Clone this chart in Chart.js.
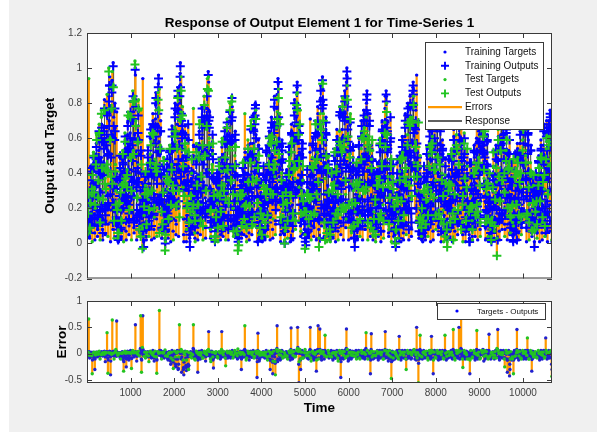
<!DOCTYPE html>
<html>
<head>
<meta charset="utf-8">
<script src="https://cdn.jsdelivr.net/npm/chart.js@4.4.1/dist/chart.umd.min.js"></script>
<style>
  html, body { margin: 0; padding: 0; background: #ffffff; }
  #fig { position: absolute; left: 9px; top: 0; width: 588px; height: 432px; background: #f0f0f0; }
  #topBox { position: absolute; left: 0; top: 0; width: 597px; height: 290px; }
  #botBox { position: absolute; left: 0; top: 290px; width: 597px; height: 142px; }
</style>
</head>
<body>
<div id="fig"></div>
<div id="topBox"><canvas id="respChart" width="597" height="290"></canvas></div>
<div id="botBox"><canvas id="errChart" width="597" height="142"></canvas></div>
<script>
// ---- time axis: one sample every 5 steps ----
const firstStep = 1;
const sampleStep = 5;
const xTicks = [1000, 2000, 3000, 4000, 5000, 6000, 7000, 8000, 9000, 10000];
const yTicksResp = [-0.2, 0, 0.2, 0.4, 0.6, 0.8, 1, 1.2];
const yTicksErr = [-0.5, 0, 0.5, 1];

// ---- targets in hundredths; one line per seasonal cycle, 12 samples per day ----
const targetPct = [
  22,12,5,9,14,20,30,26,94,16,8,4, 3,6,11,17,22,28,34,40,44,38,27,10, 1,11,22,29,35,43,52,50,45,32,17,6, 2,11,20,28,35,43,51,57,62,45,28,10, 4,8,18,27,35,43,53,62,68,60,42,15, 2,15,30,40,49,59,72,68,62,44,23,8, 2,14,27,37,46,57,67,75,82,60,37,13, 5,11,22,33,44,55,66,77,85,75,53,19, 4,11,20,52,100,84,70,88,95,78,60,22, 1,19,39,51,64,76,88,93,98,62,25,8, 103,90,72,30,3,18,40,60,80,66,45,20, 30,18,10,40,75,35,20,9,4,3,2,1,
  1,7,14,19,24,29,34,39,42,31,19,7, 3,7,14,21,28,34,41,48,53,47,33,12, 1,13,26,34,42,51,63,59,54,38,20,7, 2,13,25,34,42,52,62,69,75,55,34,12, 5,10,21,32,42,52,63,74,81,71,50,18, 2,18,37,48,59,72,87,83,75,53,28,9, 6,34,62,84,104,100,96,82,70,50,30,12, 2,14,27,37,46,57,67,75,82,60,37,13, 4,7,11,18,25,40,76,58,52,30,10,5, 20,14,9,30,94,40,4,2,
  1,8,16,21,26,31,38,36,33,23,12,4, 2,9,18,25,31,38,45,51,55,40,25,9, 4,8,17,26,34,42,51,60,66,58,41,15, 2,16,31,41,50,61,74,70,64,45,23,8, 3,15,28,39,48,59,71,79,86,63,39,14, 4,22,40,54,68,77,86,91,96,77,58,20, 88,50,28,42,56,63,70,55,40,24,8,3, 3,6,13,19,25,31,38,44,49,43,30,11, 12,7,3,2,
  1,7,14,19,24,29,34,39,42,31,19,7, 3,7,15,22,29,36,44,51,56,49,35,13, 1,14,28,36,45,55,67,63,57,41,21,7, 2,14,26,36,45,55,66,74,80,58,36,13, 5,11,23,34,45,56,68,79,87,77,54,20, 4,24,45,58,70,80,90,97,103,90,75,30, 95,64,35,48,62,70,78,64,50,32,14,5, 1,14,28,36,45,55,67,63,57,41,21,7, 1,8,16,22,27,33,39,44,48,35,22,8, 14,9,5,3,
  1,7,13,18,22,28,33,37,40,29,18,6, 10,18,25,50,77,56,35,26,18,12,6,3, 1,12,24,31,38,47,57,54,49,35,18,6, 2,12,23,32,39,48,57,64,70,51,32,11, 5,10,20,30,40,50,60,70,78,68,48,18, 2,18,35,46,56,69,84,79,72,51,26,9, 3,16,31,42,53,65,77,86,94,69,42,15, 98,95,92,76,60,68,75,54,32,20,8,3, 4,7,15,23,30,37,45,53,58,51,36,13, 10,20,30,24,18,11,4,2,
  2,5,10,14,19,24,29,33,37,32,23,8, 1,10,20,26,32,39,48,45,41,29,15,5, 2,10,20,27,34,41,49,55,60,44,27,10, 4,8,17,26,34,42,51,60,66,58,41,15, 2,15,30,39,48,59,71,68,62,44,23,8, 2,14,26,36,45,55,66,74,80,58,36,13, 10,35,60,72,84,81,78,61,44,32,20,7, 4,8,16,25,33,41,50,58,64,56,40,15, 4,6,8,13,18,23,28,16,5,3,2,1,
  1,6,12,16,20,25,30,33,36,26,16,6, 3,6,12,18,24,30,36,42,47,41,29,11, 5,12,20,47,74,52,30,35,40,25,10,4, 1,12,25,32,40,48,59,56,51,36,19,6, 2,12,23,32,39,48,57,64,70,51,32,11, 5,9,19,29,38,47,57,67,74,65,46,17, 10,40,70,75,80,78,76,62,48,37,26,9, 1,12,25,32,40,48,59,56,51,36,19,6, 2,6,11,16,20,25,29,17,6,4,3,2,
  1,8,16,21,26,31,38,36,33,23,12,4, 2,9,18,25,31,38,45,51,55,40,25,9, 4,8,17,25,33,41,50,58,64,56,40,15, 2,15,30,40,49,59,72,68,62,44,23,8, 3,14,28,38,47,58,69,77,84,61,38,13, 5,11,22,33,44,55,66,77,85,75,53,19, 94,91,88,74,60,49,38,56,74,43,12,5, 1,12,25,32,40,48,59,56,51,36,19,6, 16,26,36,22,8,5,2,1,
  1,7,14,19,24,29,34,39,42,31,19,7, 3,7,15,22,29,36,44,51,56,49,35,13, 1,14,29,40,52,58,68,64,60,42,22,7, 2,14,27,37,46,57,67,75,82,60,37,13, 8,28,48,60,72,79,85,89,92,86,80,57, 34,50,66,39,12,32,52,64,76,51,26,10, 4,7,15,23,30,37,45,53,58,51,36,13, 16,23,30,19,8,14,20,12,5,3,2,1,
  1,7,14,19,23,28,34,32,30,21,11,4, 4,10,16,22,28,31,34,52,71,44,18,7, 2,10,20,27,34,41,49,55,60,44,27,10, 4,9,18,27,36,45,54,63,70,61,43,16, 2,16,33,43,52,64,78,74,67,48,25,8, 3,15,30,41,50,62,74,83,90,66,41,14, 10,36,62,79,95,92,88,81,74,60,46,16, 4,9,19,28,37,46,56,65,72,63,44,16, 1,10,21,27,33,41,49,47,43,30,16,5, 6,4,3,2,
  1,7,14,19,24,29,34,39,42,31,19,7, 3,7,14,21,28,35,42,49,54,48,34,12, 1,14,27,35,44,53,65,61,56,39,20,7, 2,13,26,35,44,54,64,72,78,57,35,12, 5,10,22,33,43,53,65,76,83,73,52,19, 2,18,37,48,59,72,87,83,75,53,28,9, 14,53,92,96,100,95,90,80,70,57,44,15, 2,13,24,33,41,51,61,68,74,54,33,12, 3,6,13,19,25,31,38,44,49,43,30,11, 12,8,4,2,
  1,9,18,23,28,34,42,40,36,26,13,4, 2,10,20,27,34,41,49,55,60,44,27,10, 4,9,18,27,36,45,54,63,70,61,43,16, 2,16,32,42,51,62,76,72,66,46,24,8, 8,29,50,61,72,76,80,84,87,75,62,22, 2,13,24,33,41,51,61,68,74,54,33,12, 4,8,11,34,56,48,39,46,53,44,34,12, 2,4,9,14,18,22,27,32,35,31,22,8,
  1,8,15,21,26,32,38,42,46,34,21,7, 4,7,16,24,31,38,47,55,60,53,37,14, 1,15,30,38,47,58,70,67,61,43,22,7, 3,14,28,38,47,58,69,77,84,61,38,13, 87,84,80,68,56,63,70,54,38,27,16,6, 4,8,16,24,32,40,48,56,62,54,38,14, 1,8,16,21,26,31,38,36,33,23,12,4, 12,18,24,16,8,5,3,2,
  1,7,13,18,22,28,33,37,40,29,18,6, 3,6,14,21,36,34,41,48,52,46,32,12, 1,13,26,33,41,50,61,58,52,37,19,6, 2,13,24,33,41,51,61,68,74,54,33,12, 5,10,21,31,41,51,62,72,80,70,49,18, 2,18,35,46,56,69,84,79,72,51,26,9, 4,25,46,59,72,79,86,89,92,88,84,65, 46,58,70,45,20,39,58,67,76,53,30,12, 96,63,30,41,52,46,40,27,14,10,6,3, 3,9,15,32,50,44,38,25,12,8,4,2, 14,10,6,3,
  1,8,16,21,26,31,38,36,33,23,12,4, 2,9,18,24,30,37,44,50,54,39,24,9, 4,8,17,25,33,41,50,58,64,56,40,15, 1,15,30,38,47,58,70,67,61,43,22,7, 2,14,26,36,45,55,66,74,80,58,36,13, 8,28,48,67,86,84,82,76,70,50,30,10, 5,9,19,29,38,47,57,67,74,65,46,17, 1,12,25,32,40,48,59,56,51,36,19,6, 1,8,16,22,27,33,39,44,48,35,22,8, 10,6,3,2,
  1,7,14,19,24,29,34,39,42,31,19,7, 3,7,14,21,28,35,42,49,54,48,34,12, 1,14,27,35,48,53,65,61,56,39,20,7, 2,13,25,35,43,52,62,70,76,55,34,12, 5,10,21,31,41,51,62,72,80,70,49,18, 85,72,60,69,78,66,54,45,36,24,12,5, 1,13,26,34,42,51,63,59,54,38,20,7, 1,7,15,20,25,30,36,40,44,32,20,7, 12,18,24,16,8,5,3,2,
  8,8,17,22,27,33,40,38,34,24,13,4, 2,10,19,25,31,39,46,52,56,41,25,9, 4,8,17,26,34,42,51,60,66,58,41,15, 2,15,30,40,49,59,72,68,62,44,23,8, 4,24,44,55,66,73,80,82,83,78,72,58, 50,57,64,41,18,37,56,63,70,47,24,9, 2,11,21,28,35,43,51,57,62,45,28,10, 4,11,18,29,40,37,34,23,12,8,5,3, 14,9,4,2,
  1,7,15,20,25,30,36,40,44,32,20,7, 3,7,15,22,29,36,44,51,56,49,35,13, 3,14,27,35,48,53,65,61,56,39,20,7, 2,13,25,35,43,52,62,70,76,55,34,12, 8,34,60,70,80,76,72,62,52,41,30,11, 4,8,18,27,35,43,53,62,68,60,42,15, 2,11,22,29,36,44,53,50,46,32,17,6, 5,6,11,15,19,23,28,31,34,25,15,5, 12,8,4,2,
  10,5,11,17,22,27,33,39,43,37,26,10, 1,12,24,31,48,47,57,54,49,35,18,6, 2,12,23,32,39,48,57,64,70,51,32,11, 5,9,20,30,39,48,59,69,76,66,47,17, 12,43,74,79,84,82,80,65,50,38,26,9, 1,14,29,37,46,56,68,65,59,42,22,7, 2,10,19,25,31,39,46,52,56,41,25,9, 6,4,9,13,17,21,26,30,33,29,20,7,
  1,7,13,18,22,28,33,37,40,29,18,6, 3,6,13,20,26,32,39,46,50,44,31,11, 1,12,25,32,40,48,59,56,51,36,19,6, 2,12,22,31,38,47,56,63,68,50,31,11, 4,9,18,27,36,45,54,63,70,61,43,16, 1,15,30,38,47,58,70,67,61,43,22,7, 76,73,70,60,50,59,68,35,2,1
];

// ---- errors (targets - outputs) in hundredths, same layout ----
const errorPct = [
  2,-1,-3,2,1,3,4,-2,66,4,-5,-2, -8,-3,2,1,-1,2,3,-1,1,2,-4,-6, -38,-12,1,2,3,-1,2,1,2,3,-4,-8, -30,-10,-2,1,2,-2,3,2,3,-1,1,-5, -6,-2,2,1,-1,2,4,-2,5,1,2,-3, -10,-4,1,2,3,-1,-2,2,4,1,1,-4, -4,1,2,-2,1,3,3,-1,5,2,3,-6, -15,-5,1,2,2,-1,4,3,40,2,3,-8, -37,-12,-2,1,2,3,3,-2,5,1,1,-6, -40,-14,1,2,3,-1,2,3,64,2,3,-4, 2,1,5,-2,-10,-4,2,1,3,2,4,-3, 8,-2,-5,3,62,4,1,-2,-4,-3,-2,-1,
  -3,1,2,-1,1,2,-2,-4,-8,-6,-10,-6, -5,-2,1,2,3,1,4,-1,2,1,-12,-8, -33,-15,-6,2,2,1,5,-2,3,1,-4,-6, -25,-10,1,2,3,-1,5,2,2,1,-8,-10, -12,-4,2,1,4,-2,3,2,6,1,1,-8, -28,-9,2,1,3,2,6,-1,4,2,1,-4, -6,-2,2,3,2,1,55,4,3,-1,-2,-3, -14,-5,1,2,3,-1,4,2,5,1,2,-4, -4,-1,1,2,3,10,72,5,2,-10,-35,-12, 2,4,12,5,72,8,-3,-2,
  3,-2,-5,1,2,3,4,-2,-8,-4,-6,-5, -6,-2,1,2,3,-1,4,2,2,1,-4,-6, -15,-5,2,1,4,2,5,-1,1,2,-3,-6, -8,-3,1,2,3,-2,6,2,2,1,-5,-8, -14,-5,2,1,5,2,4,-1,3,2,-6,-10, -37,-12,1,2,2,3,4,2,2,1,5,-3, 82,6,3,2,2,-1,6,2,1,-3,-10,-6, -5,-2,2,1,3,2,4,-1,2,1,-8,-5, -6,-3,7,2,
  -4,-1,2,1,3,-2,-4,-3,-6,-5,-8,-10, -12,-6,1,2,4,1,3,-1,2,-4,-10,-14, -20,-8,2,1,3,2,6,-2,1,-4,-12,-16, -28,-10,1,2,4,-1,5,2,3,-6,-20,-24, -25,-10,2,1,3,2,6,3,4,-10,-30,-28, -20,-6,3,2,55,5,6,2,2,1,4,-8, 8,-10,-35,-6,2,3,5,1,3,-12,-30,-26, -40,-16,1,2,3,-2,5,3,4,-8,-22,-26, -32,-12,2,1,4,-2,3,-6,-20,-24,-30,-22, 2,-3,-5,-2,
  3,-1,-5,2,4,1,-2,-4,-8,-6,-6,-4, -4,-2,2,10,55,8,3,-1,-6,-8,-10,-6, -12,-4,2,1,3,2,5,-1,1,2,-8,-6, -35,-12,1,2,4,-1,5,2,2,1,-6,-8, -10,-3,3,1,2,2,6,-2,1,2,-8,-5, -8,-2,2,1,4,-1,5,2,3,1,-5,-6, -14,-5,1,2,3,-2,4,2,6,1,2,-4, 2,8,42,6,4,2,3,-1,1,-4,-10,-6, -15,-5,2,1,5,-1,3,2,-4,-6,-12,-8, -27,-8,3,-2,-6,-3,2,1,
  -2,1,3,2,4,-2,-6,-3,-3,-2,-5,-4, -8,-3,2,1,3,2,4,-1,1,2,-4,-6, -10,-4,2,1,3,8,42,6,2,1,-6,-5, -5,-2,1,2,4,-1,3,2,2,1,-8,-6, -23,-8,2,1,3,2,5,-1,1,2,-8,-5, -6,-2,3,1,2,2,5,-1,4,1,-6,-8, -4,-1,2,2,3,-2,6,2,1,1,-8,-6, -3,-1,2,1,4,2,6,-1,2,1,-5,-4, -6,-2,1,2,3,-4,-10,-3,9,2,-4,-2,
  2,1,-4,-2,-6,1,3,2,5,-1,-8,-6, -30,-10,2,1,3,2,5,-1,1,2,-6,-4, -6,-2,2,8,53,6,4,2,5,-1,-12,-6, -8,-3,1,2,3,-1,5,2,2,1,-6,-5, -12,-4,2,1,4,2,5,-1,3,1,-5,-6, -7,-2,1,2,3,-2,6,2,2,1,-8,-6, -5,-1,2,2,3,-1,5,2,4,1,-6,-8, -45,-15,2,6,39,5,5,2,1,-4,-14,-10, -10,-3,1,2,3,-2,-6,-3,-4,-2,-2,-1,
  -3,1,2,1,4,-2,-6,-3,2,1,-5,-4, -8,-3,2,1,3,2,6,-1,2,1,-6,-8, -12,-4,1,2,4,-1,5,2,3,-4,-10,-12, -30,-12,2,1,3,2,6,-1,1,-5,-12,-16, -38,-14,2,1,5,2,6,-1,2,-6,-15,-18, -40,-14,3,2,4,2,8,10,53,4,-15,-10, 2,3,5,2,3,-2,-4,1,6,-4,-12,-8, -10,-3,2,1,4,2,6,-1,3,1,-8,-6, -6,-2,3,-1,-4,-2,2,1,
  -6,-2,3,1,-5,-2,4,1,2,-1,-4,-5, -10,-4,2,1,3,2,5,-1,1,2,-6,-6, -12,-4,2,8,49,6,5,2,3,-2,-10,-8, -8,-3,1,2,4,-1,6,2,2,1,-6,-4, -5,-1,2,1,3,2,6,3,2,10,50,12, 3,2,4,-20,-55,-15,2,1,8,2,-10,-12, -30,-10,2,1,3,2,6,-1,1,2,-8,-6, -8,-2,3,-2,-6,-3,2,1,8,2,-3,-2,
  2,1,-4,-2,3,1,-8,-3,2,1,-5,-4, -10,-4,2,1,3,2,6,8,50,6,-8,-6, -14,-5,2,1,4,2,5,-1,3,1,-6,-8, -12,-4,1,2,3,-1,6,2,2,-2,-10,-8, -33,-12,2,1,4,2,8,6,53,5,-10,-8, 5,2,2,6,47,8,6,2,3,1,-8,-6, -12,-4,3,2,2,1,6,2,4,1,2,-4, -10,-3,2,6,35,5,5,2,3,1,-6,-5, -5,-2,1,2,3,-1,6,2,2,1,-8,-6, -6,-3,-5,-2,
  -4,-1,3,2,6,1,-6,-2,4,1,-8,-5, -12,-4,2,1,5,2,4,-1,2,1,-6,-8, -8,-3,1,2,3,-1,6,2,4,1,-8,-6, -14,-5,2,1,4,2,6,-1,3,1,-10,-8, -45,-15,3,2,2,1,6,2,5,1,-8,-6, -10,-3,2,1,4,2,6,-1,3,1,-8,-6, -6,10,47,6,2,1,8,2,5,-4,-14,-8, -12,-4,2,1,4,2,6,-1,3,1,-8,-6, -10,-3,1,2,3,-1,5,2,-6,-3,-4,-2, 2,-1,-3,-1,
  3,-1,-5,2,4,1,6,-3,-10,-6,-8,-5, -6,-2,2,1,3,2,6,-1,4,1,-8,-6, -10,-3,1,2,4,-1,6,2,3,1,-6,-5, -8,-3,2,1,3,2,6,-1,2,1,-10,-8, -5,-1,3,10,40,6,4,2,2,1,6,-3, -10,-3,5,-2,-8,-3,2,1,4,1,-8,-6, -38,-12,2,8,38,5,3,-2,-6,-3,-5,-4, -10,-3,2,1,4,-2,-8,-4,-4,-2,-3,-1,
  -4,-1,3,1,-6,-2,5,2,6,1,-8,-6, -12,-4,2,1,4,2,6,-1,3,1,-8,-6, -6,-2,1,2,3,-1,6,2,4,1,-10,-8, -10,-3,2,1,4,2,6,8,42,6,-8,-6, 2,3,5,2,3,1,6,2,4,-4,-14,-8, -8,-3,2,1,6,2,4,-2,-10,-6,-6,-4, -47,-15,2,1,5,2,3,-4,-12,-8,-5,-3, -8,-2,3,-3,-10,-4,3,1,
  3,-1,-5,-2,-4,2,6,-3,-8,-5,-6,-4, -10,-3,2,6,33,6,5,2,2,-2,-8,-6, -12,-4,2,1,4,2,6,-1,3,1,-6,-5, -8,-3,1,2,3,-1,6,2,4,1,-10,-8, -30,-10,2,1,5,2,6,-1,3,1,-8,-6, -6,-2,2,1,4,2,6,-1,3,1,-10,-8, -8,-2,3,2,2,1,6,2,2,3,5,2, 8,5,4,-4,-10,-3,3,2,6,-2,-12,-8, 50,6,-8,-2,3,2,6,-10,-55,-18,-6,-4, -10,-3,2,8,35,6,4,-2,-8,-4,-5,-3, -6,-4,-10,-5,
  -5,-1,3,2,6,1,-6,-2,4,1,-8,-5, -6,-2,2,1,5,2,4,-1,3,1,-8,-6, -12,-4,1,2,4,-1,6,2,3,1,-8,-6, -10,-3,2,6,33,6,6,2,4,1,-10,-8, -38,-12,2,1,3,2,6,-1,4,1,-6,-5, -8,-2,3,1,2,2,6,-1,4,1,-10,-8, -12,-4,2,1,5,2,6,-1,3,1,-10,-8, -6,-2,1,2,4,-1,6,2,2,1,-8,-6, -10,-3,2,1,3,6,35,5,4,1,-6,-4, -12,-6,-5,-2,
  3,-1,-5,-3,-8,-2,4,1,-6,-3,-4,-3, -6,-2,2,1,4,2,6,-1,3,1,-8,-6, -10,-3,2,8,46,6,6,2,3,1,-8,-6, -12,-4,1,2,4,-1,6,2,2,1,-6,-5, -8,-3,2,1,3,6,50,6,4,1,-10,-8, 2,5,4,10,70,8,3,-2,-6,-4,-10,-6, -26,-9,2,1,4,2,6,-1,3,1,-10,-8, -6,-2,2,1,5,-2,-8,-4,-10,-6,-4,-3, -8,-2,3,-3,-10,-4,2,1,
  -38,-12,3,1,6,2,-6,-2,4,1,-8,-5, -6,-2,2,1,3,2,6,-1,4,1,-8,-6, -12,-4,1,2,4,-1,6,8,44,6,-8,-6, -10,-3,2,1,3,2,6,-1,4,1,-10,-8, -8,-2,3,2,2,1,6,2,4,2,5,2, 8,4,3,-4,-14,-5,4,2,6,-2,-10,-6, -8,-3,2,1,4,2,6,-1,3,1,-6,-5, -10,-3,2,6,37,4,-6,-3,-8,-4,-5,-3, -10,-4,2,1,
  -5,-1,3,1,-6,-2,4,1,-8,-4,-4,-3, -10,-3,2,1,4,2,6,-1,3,1,-8,-6, 10,2,2,8,46,6,6,2,3,1,-8,-6, -12,-4,1,2,4,-1,6,2,2,1,-6,-5, -8,-2,3,2,2,1,6,2,4,1,-10,-8, -25,-8,2,1,4,2,6,-1,3,1,-10,-12, -35,-12,2,1,5,2,6,-1,3,-10,-42,-20, -30,-10,2,1,4,-3,-8,-6,-12,-8,-6,-4, -10,-4,2,1,
  -38,-12,3,1,6,2,-5,-2,-8,-4,-4,-3, -6,-2,2,8,46,6,6,2,3,1,-8,-6, -12,-4,1,2,4,-1,6,2,3,1,-8,-6, -10,-3,2,1,3,2,6,-1,4,1,-10,-8, -6,-2,3,2,2,1,6,2,4,1,-10,-8, -8,-3,2,6,30,5,6,2,3,1,-10,-8, -10,-3,2,1,4,2,6,-1,3,1,-6,-5, -33,-11,2,1,5,-2,-8,-4,-6,-3,-4,-2,
  3,-1,-5,-2,4,1,-6,-3,2,1,-6,-5, -8,-3,2,1,3,2,6,-1,4,1,-8,-6, -12,-4,1,2,4,-1,6,2,3,1,-6,-5, -10,-3,2,1,3,2,6,-1,2,1,-8,-6, -6,-2,3,6,30,5,6,2,4,1,-10,-8, -8,-3,2,1,4,2,6,-1,3,1,-8,-6, 2,1,4,2,6,3,3,-20,-43,-30
];

// ---- sample membership: 1 = test, 0 = training ----
const testMask = [
  '001001001000 010010000010 100000100100 001001001000 000110001000 100000100100 001000010010 000110001000 100010000010 001001001000 010010000010 100000100100',
  '010010000010 001001001000 100000100100 000110001000 001000010010 100000100100 000110001000 001001001000 100000100010 00100000',
  '001001001000 010010000010 100000100100 001001001000 010010000010 100000100100 100010000010 001001001000 0010',
  '100000100100 001001001000 010010000010 100000100100 001001001000 010010000010 100000100100 001001001000 010010000010 1000',
  '001001001000 010010000010 100000100100 001001001000 010010000010 100000100100 001001001000 010010000010 100000100100 00100010',
  '010010000010 100000100100 001001001000 010010000010 100000100100 001001001000 010010000010 100000100100 001001001000',
  '100000100100 001001001000 010010000010 100000100100 001001001000 010010000010 100000100100 001001001000 010010000010',
  '001001001000 010010000010 100000100100 001001001000 010010000010 100000100100 001001001000 010010000010 10000010',
  '010010000010 100000100100 001001001000 010010000010 100000100100 001001001000 010010000010 100000101000',
  '001001001000 010010000010 100000100100 001001001000 010010000010 100000100100 001001001000 010010000010 100000100100 0010',
  '100000100100 001001001000 010010000010 100000100100 001001001000 010010000010 100000100100 001001001000 010010000010 1000',
  '001001001000 010010000010 100000100100 001001001000 010010000010 100000100100 001001001000 010010000010',
  '100000100100 001001001000 010010000010 100000100100 001001001000 010010000010 100000100100 00100010',
  '010010000010 100000100100 001001001000 010010000010 100000100100 001001001000 010010000010 100000100100 001001001000 010010000010 1000',
  '001001001000 010010000010 100000100100 001001001000 010010000010 100000100100 001001001000 010010000010 100000100100 0010',
  '100000100100 001001001000 010010000010 100000100100 001001001000 010010000010 100000100100 001001001000 00001000',
  '010010000010 100000100100 001001001000 010010000010 100000100100 001001001000 010010000010 100000100100 0010',
  '001001001000 010010000010 100000100100 001001001000 010010000010 100000100100 001001001000 010010000010 1000',
  '100000100100 001001001000 010010000010 100000100100 001001001000 010010000010 100000100100 001001001000',
  '010010000010 100000100100 001001001000 010010000010 100000100100 001001001000 0000100010'
].join('').replace(/ /g, '');

const topLegendLabels = ['Training Targets', 'Training Outputs', 'Test Targets', 'Test Outputs', 'Errors', 'Response'];
const errLegendLabel = 'Targets - Outputs';

const FONT = '"Liberation Sans", Arial, Helvetica, sans-serif';
const BLUE = '#0000ff', GREEN = '#22c422', ORANGE = '#ff9900', AXIS = '#3a3a3a', TICKTXT = '#404040';
const TICK = 5;

// ---- derived series ----
const targets = targetPct.map(v => v / 100);
const errors = errorPct.map(v => v / 100);
const time = targets.map((_, i) => firstStep + sampleStep * i);
const outputs = targets.map((t, i) => +(t - errors[i]).toFixed(3));
const isTest = i => testMask[i] === '1';
const pick = (vals, wantTest) => vals.map((v, i) => ({ x: time[i], y: v })).filter((_, i) => isTest(i) === wantTest);

const errSegments = [];
targets.forEach((t, i) => { errSegments.push({ x: time[i], y: t }, { x: time[i], y: outputs[i] }, { x: time[i], y: null }); });
const errStems = [];
errors.forEach((e, i) => { errStems.push({ x: time[i], y: 0 }, { x: time[i], y: e }, { x: time[i], y: null }); });

const fmtTick = v => String(+(+v).toFixed(2));

function frame(name, yTicks, extra) {
  return {
    id: 'frame_' + name,
    beforeDraw(chart) {
      const a = chart.chartArea, c = chart.ctx;
      c.save(); c.fillStyle = '#ffffff';
      c.fillRect(a.left, a.top, a.right - a.left, a.bottom - a.top);
      c.restore();
    },
    afterDatasetsDraw(chart) {
      const a = chart.chartArea, c = chart.ctx, xs = chart.scales.x, ys = chart.scales.y;
      c.save();
      c.strokeStyle = AXIS; c.lineWidth = 1;
      c.beginPath();
      xTicks.forEach(v => {
        const p = Math.round(xs.getPixelForValue(v)) + 0.5;
        c.moveTo(p, a.bottom); c.lineTo(p, a.bottom - TICK);
        c.moveTo(p, a.top); c.lineTo(p, a.top + TICK);
      });
      yTicks.forEach(v => {
        const p = Math.round(ys.getPixelForValue(v)) + 0.5;
        c.moveTo(a.left, p); c.lineTo(a.left + TICK, p);
        c.moveTo(a.right, p); c.lineTo(a.right - TICK, p);
      });
      c.stroke();
      c.strokeRect(a.left + 0.5, a.top + 0.5, a.right - a.left - 1, a.bottom - a.top - 1);
      c.restore();
      extra(chart);
    }
  };
}

function legendIcon(c, kind, color, x, y) {
  c.save();
  if (kind === 'dot') {
    c.fillStyle = color; c.beginPath(); c.arc(x, y, 1.6, 0, Math.PI * 2); c.fill();
  } else if (kind === 'cross') {
    c.strokeStyle = color; c.lineWidth = 1.9; c.beginPath();
    c.moveTo(x - 4, y); c.lineTo(x + 4, y); c.moveTo(x, y - 4); c.lineTo(x, y + 4); c.stroke();
  } else {
    c.strokeStyle = color; c.lineWidth = kind === 'thick' ? 2.2 : 1.5; c.beginPath();
    c.moveTo(x - 17, y); c.lineTo(x + 17, y); c.stroke();
  }
  c.restore();
}

function drawTopExtras(chart) {
  const a = chart.chartArea, c = chart.ctx;
  const bx = a.right - 127, by = a.top + 9, bw = 118, bh = 87;
  c.save();
  c.fillStyle = '#ffffff'; c.fillRect(bx, by, bw, bh);
  c.strokeStyle = AXIS; c.lineWidth = 1; c.strokeRect(bx + 0.5, by + 0.5, bw, bh);
  const kinds = [['dot', BLUE], ['cross', BLUE], ['dot', GREEN], ['cross', GREEN], ['thick', ORANGE], ['line', '#2b2b2b']];
  c.font = '10px ' + FONT; c.textBaseline = 'middle'; c.textAlign = 'left';
  topLegendLabels.forEach((lab, k) => {
    const y = by + 10 + k * 13.8;
    legendIcon(c, kinds[k][0], kinds[k][1], bx + 20, y);
    c.fillStyle = '#111';
    c.fillText(lab, bx + 40, y);
  });
  c.fillStyle = '#000'; c.textAlign = 'center';
  c.font = 'bold 13.5px ' + FONT;
  c.fillText('Response of Output Element 1 for Time-Series 1', (a.left + a.right) / 2, 23);
  c.translate(50, (a.top + a.bottom) / 2); c.rotate(-Math.PI / 2);
  c.fillText('Output and Target', 0, 0);
  c.restore();
}

function drawErrExtras(chart) {
  const a = chart.chartArea, c = chart.ctx;
  const bx = a.right - 115, by = a.top + 2, bw = 108, bh = 16;
  c.save();
  c.fillStyle = '#ffffff'; c.fillRect(bx, by, bw, bh);
  c.strokeStyle = AXIS; c.lineWidth = 1; c.strokeRect(bx + 0.5, by + 0.5, bw, bh);
  legendIcon(c, 'dot', BLUE, bx + 20, by + 8);
  c.font = '8px ' + FONT; c.fillStyle = '#111'; c.textBaseline = 'middle'; c.textAlign = 'left';
  c.fillText(errLegendLabel, bx + 40, by + 8.5);
  c.fillStyle = '#000'; c.textAlign = 'center';
  c.font = 'bold 13.5px ' + FONT;
  c.fillText('Time', (a.left + a.right) / 2, 118);
  c.translate(62, (a.top + a.bottom) / 2); c.rotate(-Math.PI / 2);
  c.fillText('Error', 0, 0);
  c.restore();
}

function baseScales(yMin, yMax, yTicks, showX, xHeight) {
  return {
    x: {
      type: 'linear', min: 1, max: 10665,
      afterBuildTicks: s => { s.ticks = xTicks.map(v => ({ value: v })); },
      ticks: { display: showX, color: TICKTXT, font: { family: FONT, size: 10 }, padding: 4, maxRotation: 0, autoSkip: false, callback: v => String(v) },
      grid: { display: false, drawTicks: false },
      border: { display: false },
      afterFit: s => { s.height = xHeight; }
    },
    y: {
      min: yMin, max: yMax,
      afterBuildTicks: s => { s.ticks = yTicks.map(v => ({ value: v })); },
      ticks: { color: TICKTXT, font: { family: FONT, size: 10 }, padding: 5, autoSkip: false, callback: fmtTick },
      grid: { display: false, drawTicks: false },
      border: { display: false },
      afterFit: s => { s.width = 57; }
    }
  };
}

const common = {
  responsive: false,
  animation: false,
  events: [],
  plugins: { legend: { display: false }, tooltip: { enabled: false } }
};

new Chart(document.getElementById('respChart'), {
  type: 'scatter',
  data: {
    datasets: [
      { label: 'Response', data: time.map((x, i) => ({ x, y: outputs[i] })), showLine: true, borderColor: '#1a1a1a', borderWidth: 0.5, pointRadius: 0, order: 7 },
      { label: 'Errors', data: errSegments, showLine: true, spanGaps: false, borderColor: ORANGE, borderWidth: 2.2, pointRadius: 0, order: 6 },
      { label: 'Training Targets', data: pick(targets, false), pointStyle: 'circle', pointRadius: 1.7, backgroundColor: BLUE, borderWidth: 0, order: 4 },
      { label: 'Training Outputs', data: pick(outputs, false), pointStyle: 'cross', pointRadius: 4.5, borderColor: BLUE, borderWidth: 2.0, order: 3 },
      { label: 'Test Targets', data: pick(targets, true), pointStyle: 'circle', pointRadius: 1.7, backgroundColor: GREEN, borderWidth: 0, order: 2 },
      { label: 'Test Outputs', data: pick(outputs, true), pointStyle: 'cross', pointRadius: 4.5, borderColor: GREEN, borderWidth: 2.0, order: 1 }
    ]
  },
  options: Object.assign({}, common, {
    layout: { padding: { left: 30, right: 45, top: 33, bottom: 0 } },
    scales: baseScales(-0.2, 1.2, yTicksResp, false, 11.5)
  }),
  plugins: [frame('resp', yTicksResp, drawTopExtras)]
});

new Chart(document.getElementById('errChart'), {
  type: 'scatter',
  data: {
    datasets: [
      { label: 'Errors', data: errStems, showLine: true, spanGaps: false, borderColor: ORANGE, borderWidth: 2.2, pointRadius: 0, order: 3 },
      { label: 'Training', data: pick(errors, false), pointStyle: 'circle', pointRadius: 1.7, backgroundColor: '#2020d0', borderWidth: 0, order: 2 },
      { label: 'Test', data: pick(errors, true), pointStyle: 'circle', pointRadius: 1.7, backgroundColor: GREEN, borderWidth: 0, order: 1 }
    ]
  },
  options: Object.assign({}, common, {
    layout: { padding: { left: 30, right: 45, top: 7, bottom: 0 } },
    scales: baseScales(-0.555, 1, yTicksErr, true, 49)
  }),
  plugins: [frame('err', yTicksErr, drawErrExtras)]
});
</script>
</body>
</html>
